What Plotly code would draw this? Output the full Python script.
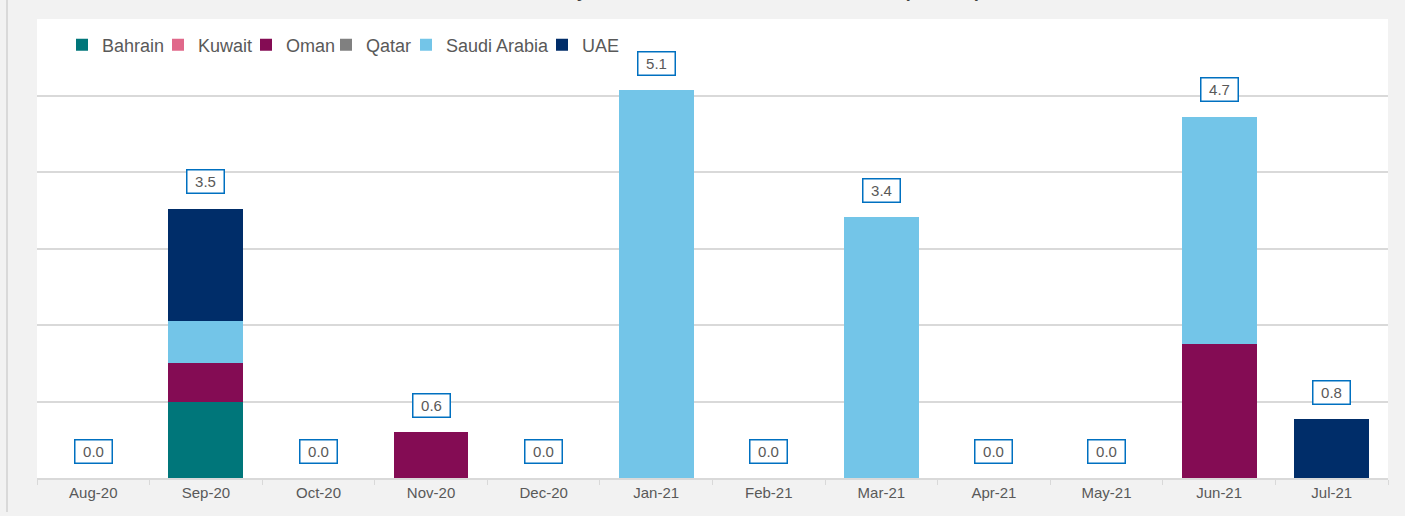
import plotly.graph_objects as go

months = ["Aug-20", "Sep-20", "Oct-20", "Nov-20", "Dec-20", "Jan-21",
          "Feb-21", "Mar-21", "Apr-21", "May-21", "Jun-21", "Jul-21"]

bahrain = [0, 1.0, 0, 0, 0, 0, 0, 0, 0, 0, 0, 0]
kuwait = [0, 0, 0, 0, 0, 0, 0, 0, 0, 0, 0, 0]
oman = [0, 0.5, 0, 0.6, 0, 0, 0, 0, 0, 0, 1.75, 0]
qatar = [0, 0, 0, 0, 0, 0, 0, 0, 0, 0, 0, 0]
saudi = [0, 0.55, 0, 0, 0, 5.07, 0, 3.41, 0, 0, 2.97, 0]
uae = [0, 1.47, 0, 0, 0, 0, 0, 0, 0, 0, 0, 0.77]

series = [
    ("Bahrain", bahrain, "#00767a"),
    ("Kuwait", kuwait, "#e0688a"),
    ("Oman", oman, "#840c54"),
    ("Qatar", qatar, "#808080"),
    ("Saudi Arabia", saudi, "#73c5e8"),
    ("UAE", uae, "#002d69"),
]

# left edge (px) of each legend swatch in the reference
legend_px = [80, 176, 264, 344, 424, 560]

totals = [sum(v) for v in zip(bahrain, kuwait, oman, qatar, saudi, uae)]

TITLE = "Total GCC Monthly Bond &amp; Sukuk Issuance Breakdown (USD bn)"

FONT = "Liberation Sans, Arial, sans-serif"
GRAY = "#595959"
L, T, PW, PH = 37, 19, 1351, 459

fig = go.Figure()
legend_layout = {}
for i, ((name, vals, col), lx) in enumerate(zip(series, legend_px)):
    key = "legend" if i == 0 else f"legend{i + 1}"
    fig.add_trace(go.Bar(
        x=months, y=vals, name=name, legend=key,
        marker=dict(color=col, line=dict(width=0)),
    ))
    legend_layout[key] = dict(
        orientation="h", x=(lx - 18 - L) / PW, xanchor="left",
        y=1 - (45 - T) / PH, yanchor="middle",
        font=dict(family=FONT, size=18, color=GRAY),
        bgcolor="rgba(0,0,0,0)", itemwidth=30,
    )

for m, t in zip(months, totals):
    fig.add_annotation(
        x=m, y=t, xref="x", yref="y",
        text=f"{t:.1f}", showarrow=False,
        yshift=27, width=30, height=16,
        font=dict(family=FONT, size=15, color=GRAY),
        bgcolor="white", bordercolor="#0070c0", borderwidth=1.5, borderpad=3,
    )

# title: only its lowest pixels are visible, as in the reference
fig.add_annotation(
    x=(983 - L) / PW, xref="paper", xanchor="right",
    y=1, yref="paper", yanchor="bottom", yshift=16,
    text=f"<b>{TITLE}</b>",
    showarrow=False, font=dict(family=FONT, size=18, color="#404040"),
)

fig.add_shape(type="line", xref="paper", yref="paper",
              x0=(7 - L) / PW, x1=(7 - L) / PW,
              y0=1 + T / PH, y1=1 - (512 - T) / PH,
              line=dict(color="#d0d0d0", width=1.5))

fig.update_layout(
    width=1405, height=516,
    barmode="stack", bargap=0.335,
    paper_bgcolor="#f2f2f2", plot_bgcolor="white",
    margin=dict(l=L, r=1405 - L - PW, t=T, b=516 - T - PH, autoexpand=False),
    font=dict(family=FONT, color=GRAY),
    showlegend=True,
    xaxis=dict(
        type="category", tickson="boundaries", ticks="outside", ticklen=5,
        tickcolor="#d9d9d9", showline=True, linecolor="#d9d9d9", linewidth=1.5,
        tickfont=dict(family=FONT, size=15, color=GRAY), showgrid=False,
    ),
    yaxis=dict(
        range=[0, 6], dtick=1, showticklabels=False, showgrid=True,
        gridcolor="#d9d9d9", gridwidth=2, zeroline=False, fixedrange=True,
    ),
    **legend_layout,
)

fig.write_html("out.html", config={"displayModeBar": False},
               post_script="document.body.style.margin='0';")
